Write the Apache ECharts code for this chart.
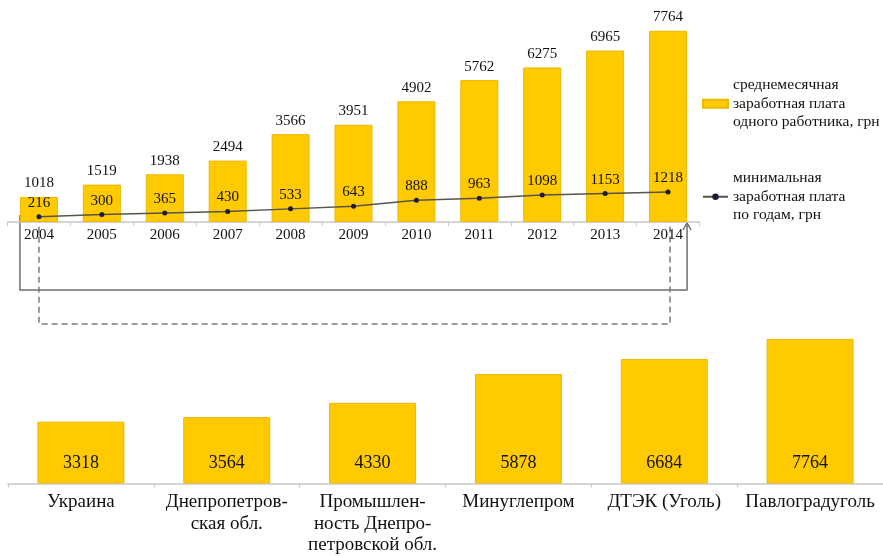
<!DOCTYPE html>
<html lang="ru">
  <head>
    <meta charset="UTF-8" />
    <title>Заработная плата</title>
    <style>
      body {
        margin: 0;
        overflow: hidden;
        background: #fff;
      }
    </style>
    <script src="https://cdn.jsdelivr.net/npm/echarts@6/dist/echarts.min.js"></script>
  </head>

  <body>
    <div id="chart" style="width: 883px; height: 556px"></div>
    <script>
      // данные
      var years = ["2004", "2005", "2006", "2007", "2008", "2009", "2010", "2011", "2012", "2013", "2014"];
      var avgWage = [1018, 1519, 1938, 2494, 3566, 3951, 4902, 5762, 6275, 6965, 7764];
      var minWage = [216, 300, 365, 430, 533, 643, 888, 963, 1098, 1153, 1218];
      var regions = [
        "Украина",
        "Днепропетров-\nская обл.",
        "Промышлен-\nность Днепро-\nпетровской обл.",
        "Минуглепром",
        "ДТЭК (Уголь)",
        "Павлоградуголь",
      ];
      var regionWage = [3318, 3564, 4330, 5878, 6684, 7764];

      var avgName = "среднемесячная\nзаработная плата\nодного работника, грн";
      var minName = "минимальная\nзаработная плата\nпо годам, грн";

      var font = "Liberation Serif";
      var yellow = "#FFCA00";
      var topBarWidth = 38;

      var myChart = echarts.init(document.getElementById("chart"));

      var axisLineStyle = { lineStyle: { color: "#c8c8c8", width: 1.5 } };
      var axisTick = { show: true, length: 4, lineStyle: { color: "#c8c8c8" } };
      var legendText = { fontFamily: font, fontSize: 15.5, lineHeight: 18.5, color: "#111" };

      var option = {
        animation: false,
        grid: [
          { left: 7.5, width: 692, top: 25, height: 197 },
          { left: 8, width: 878, top: 334.5, height: 149.5 },
        ],
        legend: [
          {
            data: [{ name: avgName, icon: "rect" }],
            orient: "vertical",
            left: 697,
            top: 71,
            itemWidth: 25,
            itemHeight: 8,
            textStyle: legendText,
          },
          {
            data: [minName],
            orient: "vertical",
            left: 697,
            top: 164,
            itemWidth: 25,
            itemHeight: 8,
            textStyle: legendText,
          },
        ],
        xAxis: [
          {
            type: "category",
            gridIndex: 0,
            data: years,
            axisLine: axisLineStyle,
            axisTick: axisTick,
            axisLabel: { fontFamily: font, fontSize: 15, color: "#111", margin: 6 },
          },
          {
            type: "category",
            gridIndex: 1,
            data: regions,
            axisLine: axisLineStyle,
            axisTick: axisTick,
            axisLabel: {
              fontFamily: font,
              fontSize: 19,
              lineHeight: 21.5,
              color: "#111",
              margin: 8,
              interval: 0,
            },
          },
        ],
        yAxis: [
          { type: "value", gridIndex: 0, min: 0, max: 8000, show: false },
          { type: "value", gridIndex: 1, min: 0, max: 8000, show: false },
        ],
        series: [
          {
            name: avgName,
            type: "bar",
            xAxisIndex: 0,
            yAxisIndex: 0,
            data: avgWage,
            barWidth: topBarWidth,
            itemStyle: { color: yellow, borderColor: "#EDB800", borderWidth: 1 },
            label: {
              show: true,
              position: "top",
              distance: 6,
              fontFamily: font,
              fontSize: 15,
              color: "#111",
            },
          },
          {
            name: minName,
            type: "line",
            xAxisIndex: 0,
            yAxisIndex: 0,
            data: minWage,
            symbol: "circle",
            symbolSize: 5,
            itemStyle: { color: "#1c1c3a" },
            lineStyle: { color: "#55554a", width: 1.5 },
            label: {
              show: true,
              position: "top",
              distance: 4,
              fontFamily: font,
              fontSize: 15,
              color: "#111",
            },
            z: 3,
          },
          {
            name: "regions",
            type: "bar",
            xAxisIndex: 1,
            yAxisIndex: 1,
            data: regionWage,
            barWidth: 87,
            itemStyle: { color: yellow, borderColor: "#EDB800", borderWidth: 1 },
            label: {
              show: true,
              position: "insideBottom",
              distance: 11,
              fontFamily: font,
              fontSize: 18,
              color: "#111",
            },
          },
        ],
      };
      myChart.setOption(option);

      // соединительные линии между верхней и нижней диаграммой
      var last = years.length - 1;
      var pMin0 = myChart.convertToPixel({ xAxisIndex: 0, yAxisIndex: 0 }, [0, minWage[0]]);
      var pMinN = myChart.convertToPixel({ xAxisIndex: 0, yAxisIndex: 0 }, [last, minWage[last]]);
      var pBase0 = myChart.convertToPixel({ xAxisIndex: 0, yAxisIndex: 0 }, [0, 0]);
      var pBaseN = myChart.convertToPixel({ xAxisIndex: 0, yAxisIndex: 0 }, [last, 0]);
      var xL = pBase0[0] - topBarWidth / 2;
      var xR = pBaseN[0] + topBarWidth / 2;
      var ySolid = 290;
      var yDash = 324;

      function arrow(x, y, color) {
        return {
          type: "polyline",
          shape: { points: [[x - 4, y + 7], [x, y], [x + 4, y + 7]] },
          style: { stroke: color, lineWidth: 1.5, fill: null },
        };
      }

      myChart.setOption({
        graphic: [
          {
            type: "polyline",
            shape: {
              points: [
                [pMin0[0], pMin0[1] - 1],
                [xL, pMin0[1] - 1],
                [xL, ySolid],
                [xR, ySolid],
                [xR, pBaseN[1] + 1],
              ],
            },
            style: { stroke: "#6e6e6e", lineWidth: 1.5, fill: null },
          },
          arrow(xR, pBaseN[1] + 1, "#6e6e6e"),
          {
            type: "polyline",
            shape: {
              points: [
                [pMin0[0], pMin0[1]],
                [pMin0[0], yDash],
                [pMinN[0] + 2, yDash],
                [pMinN[0] + 2, pMinN[1] + 4],
              ],
            },
            style: { stroke: "#7a7a7a", lineWidth: 1.5, lineDash: [6, 4], fill: null },
          },
          arrow(pMinN[0] + 2, pMinN[1] + 4, "#7a7a7a"),
        ],
      });
    </script>
  </body>
</html>
